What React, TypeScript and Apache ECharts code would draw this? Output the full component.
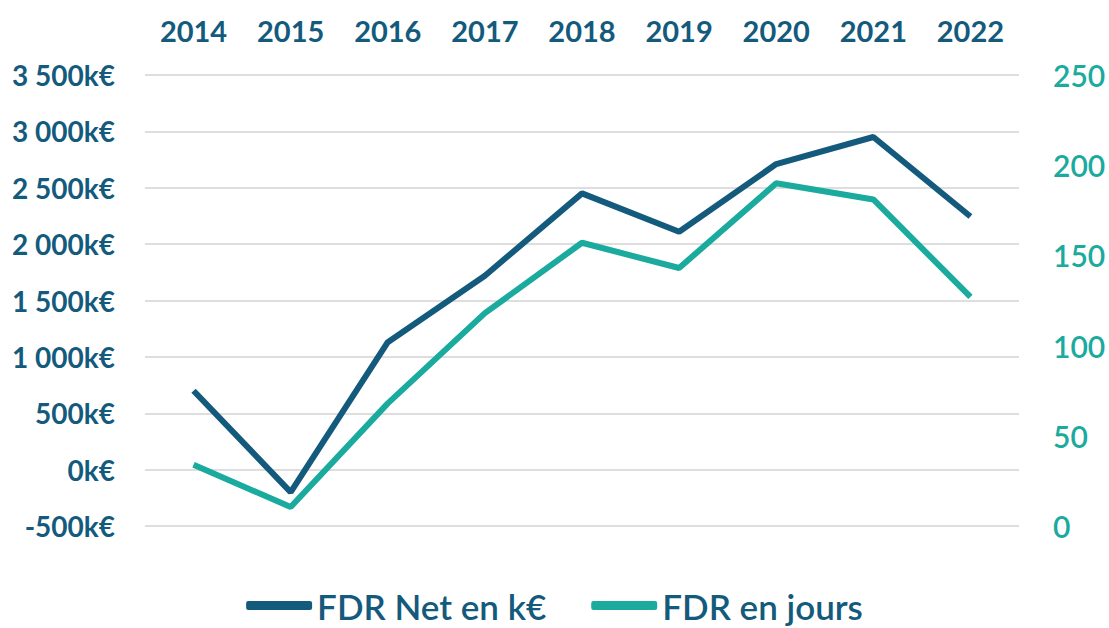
import React, { useEffect, useRef } from "react";
import * as echarts from "echarts";

const years = ["2014", "2015", "2016", "2017", "2018", "2019", "2020", "2021", "2022"];
const fdrNetK = [700, -200, 1130, 1720, 2450, 2110, 2710, 2950, 2245];
const fdrJours = [34, 10.5, 68, 118, 157, 143, 190, 181, 127];
const seriesNames = ["FDR Net en k€", "FDR en jours"];

const DARK = "#145a7c";
const TEAL = "#1aaa9e";

function fmtK(v: number): string {
  const s = Math.abs(v).toString().replace(/\B(?=(\d{3})+(?!\d))/g, " ");
  return (v < 0 ? "-" : "") + s + "k€";
}

export default function App() {
  const ref = useRef<HTMLDivElement>(null);
  useEffect(() => {
    document.body.style.margin = "0";
    const chart = echarts.init(ref.current!, null, { renderer: "svg" });
    chart.setOption({
      animation: false,
      backgroundColor: "#ffffff",
      grid: { left: 145, right: 90, top: 75, bottom: 102 },
      legend: {
        bottom: 0,
        left: "center",
        itemWidth: 66,
        itemHeight: 9,
        itemGap: 45,
        icon: "roundRect",
        textStyle: { color: DARK, fontFamily: "Lato", fontSize: 35, fontWeight: 600 },
        data: seriesNames,
      },
      xAxis: {
        type: "category",
        position: "top",
        data: years,
        axisLine: { show: false },
        axisTick: { show: false },
        axisLabel: { color: DARK, fontFamily: "Lato", fontSize: 29, fontWeight: "bold", margin: 30 },
      },
      yAxis: [
        {
          type: "value",
          min: -500,
          max: 3500,
          interval: 500,
          axisLine: { show: false },
          axisTick: { show: false },
          splitLine: { lineStyle: { color: "#dedede", width: 2 } },
          axisLabel: {
            color: DARK,
            fontFamily: "Lato",
            fontSize: 28,
            fontWeight: "bold",
            margin: 30,
            formatter: (v: number) => fmtK(v),
          },
        },
        {
          type: "value",
          min: 0,
          max: 250,
          interval: 50,
          position: "right",
          axisLine: { show: false },
          axisTick: { show: false },
          splitLine: { show: false },
          axisLabel: { color: TEAL, fontFamily: "Lato", fontSize: 30, fontWeight: 600, margin: 34 },
        },
      ],
      series: [
        {
          name: seriesNames[0],
          type: "line",
          data: fdrNetK,
          yAxisIndex: 0,
          showSymbol: false,
          symbol: "none",
          lineStyle: { color: DARK, width: 6 },
          itemStyle: { color: DARK },
        },
        {
          name: seriesNames[1],
          type: "line",
          data: fdrJours,
          yAxisIndex: 1,
          showSymbol: false,
          symbol: "none",
          lineStyle: { color: TEAL, width: 6 },
          itemStyle: { color: TEAL },
        },
      ],
    });
    return () => chart.dispose();
  }, []);
  return <div ref={ref} style={{ width: 1109, height: 628 }} />;
}
